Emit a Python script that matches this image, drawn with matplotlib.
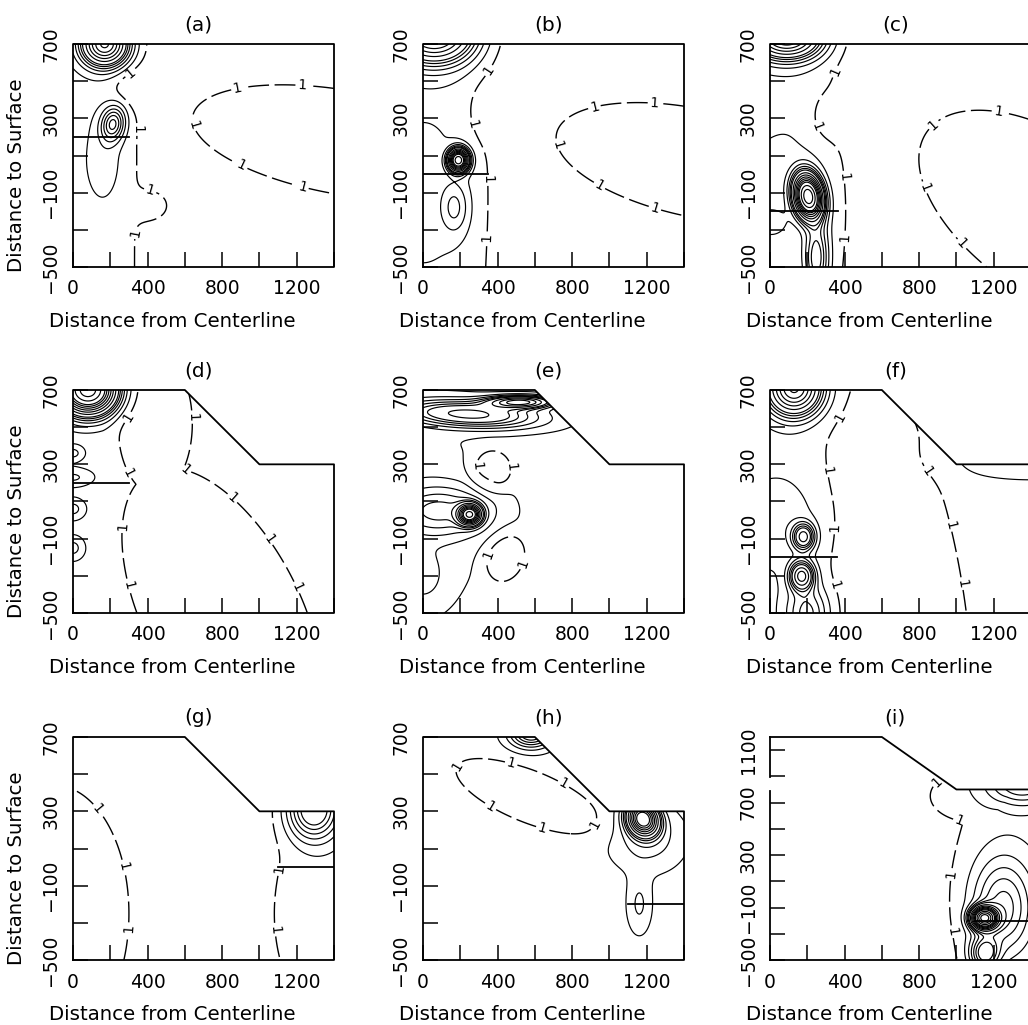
import numpy as np
import matplotlib
matplotlib.use("Agg")
import matplotlib.pyplot as plt
from matplotlib.patches import Polygon

plt.rcParams['font.family'] = ['DejaVu Sans']

# ---------------- axis data ----------------
x_ticks = [0, 200, 400, 600, 800, 1000, 1200, 1400]
x_tick_labels = ['0', '', '400', '', '800', '', '1200', '']
y_ticks = [-500, -300, -100, 100, 300, 500, 700]
y_tick_labels = ['\u2212500', '', '\u2212100', '', '300', '', '700']
y_ticks_i = [-500, -300, -100, 100, 300, 500, 700, 900, 1100]
y_tick_labels_i = ['\u2212500', '', '\u2212100', '', '300', '', '700', '', '1100']

surface_x = [0, 600, 1000, 1400]
surface_flat = [700, 700, 700, 700]
surface_slope = [700, 700, 300, 300]
surface_high = [1200, 1200, 800, 800]

level_one = [1.0]
solid_levels = [1.5, 2, 2.5, 3, 3.5, 4, 5, 6, 7, 8, 9, 10, 12, 14, 16, 18, 20]

# ---------------- field data per panel ----------------
# regions: (x0, y0, a, b, angle)   plateau zones bounded by the "1" contour
# peaks:   (x0, y0, amplitude, a, b, angle)
# layer:   (y, x_start, x_end)
base_a, delta_a = 0.7, 0.6
regions_a = [(0, 0, 330, 1e5, 0), (1450, 170, 820, 280, -10)]
peaks_a = [(170, 700, 8, 95, 90, 0), (215, 270, 2.8, 50, 75, -10), (170, 80, 0.5, 85, 190, 0),
           (330, 470, -0.5, 110, 90, 0), (430, -170, 0.5, 80, 70, 0)]
layer_a = (200, 0, 300)

base_b, delta_b = 0.7, 0.6
regions_b = [(0, 0, 320, 1e5, 0), (1460, 60, 760, 290, -12)]
peaks_b = [(60, 760, 8, 160, 120, 0), (190, 75, 12, 40, 45, 0), (170, -180, 1.2, 60, 110, 0),
           (0, -100, 0.35, 230, 420, 0), (330, 330, -0.4, 80, 120, 0)]
layer_b = (0, 0, 350)

base_c, delta_c = 0.7, 0.6
regions_c = [(0, 0, 330, 1e5, 0), (1500, -230, 800, 420, -35)]
peaks_c = [(90, 740, 8, 140, 90, 0), (205, -120, 14, 55, 90, 10), (250, -450, 2.5, 50, 150, 0),
           (0, -260, 0.8, 70, 60, 0), (100, -200, 0.4, 280, 420, 0), (290, 300, -0.4, 80, 120, 0)]
layer_c = (-200, 0, 365)

base_d, delta_d = 1.3, -0.6
regions_d = [(440, 520, 200, 380, 0), (800, -500, 850, 420, -63)]
peaks_d = [(80, 700, 14, 110, 95, 0), (0, 360, 0.9, 48, 34, 0), (0, 230, 0.8, 95, 40, 0),
           (0, 60, 0.9, 55, 45, 0), (0, -150, 0.9, 50, 50, 0)]
layer_d = (200, 0, 300)

base_e, delta_e = 1.3, -0.6
regions_e = [(365, 265, 115, 120, 0), (435, -200, 110, 145, -20)]
peaks_e = [(250, 570, 4, 280, 55, -3), (520, 635, 6, 130, 25, 0), (250, 30, 10, 45, 40, 0),
           (100, 50, 2, 220, 110, 0), (0, 0, 0.5, 270, 450, 0), (0, -300, 0.8, 80, 100, 0)]
layer_e = None

base_f, delta_f = 1.3, -0.6
regions_f = [(680, -500, 1320, 370, -82)]
peaks_f = [(130, 710, 8, 110, 110, 0), (180, -90, 4, 45, 55, 0), (60, -20, 0.6, 200, 200, 0),
           (170, -300, 5, 50, 60, 0), (200, -500, 2, 90, 120, 0), (1400, 330, 0.6, 350, 90, 0)]
layer_f = (-200, 0, 360)

base_g, delta_g = 0.7, 0.6
regions_g = [(-100, -250, 400, 690, 0), (1450, -250, 370, 620, 0)]
peaks_g = [(1290, 315, 4, 110, 130, 0)]
layer_g = (0, 1100, 1400)

base_h, delta_h = 1.3, -0.6
regions_h = [(570, 380, 420, 140, -22)]
peaks_h = [(580, 720, 3.5, 90, 60, 0), (1180, 260, 10, 60, 70, 30), (1200, 150, 1.0, 150, 130, 0),
           (1160, -200, 0.8, 50, 120, 0)]
layer_h = (-200, 1100, 1400)

base_i, delta_i = 0.7, 0.6
regions_i = [(1500, 100, 490, 1200, 0), (1100, 750, 240, 200, 0)]
peaks_i = [(1350, 850, 2.5, 150, 130, 0), (1150, -180, 15, 50, 60, 0), (1250, -100, 2.5, 130, 300, 0),
           (1150, -450, 3, 60, 100, 0)]
layer_i = (-200, 1100, 1400)
spine_gap_i = (790, 895)

titles = ['(a)', '(b)', '(c)', '(d)', '(e)', '(f)', '(g)', '(h)', '(i)']

panels = [
    (base_a, delta_a, regions_a, peaks_a, layer_a, surface_flat),
    (base_b, delta_b, regions_b, peaks_b, layer_b, surface_flat),
    (base_c, delta_c, regions_c, peaks_c, layer_c, surface_flat),
    (base_d, delta_d, regions_d, peaks_d, layer_d, surface_slope),
    (base_e, delta_e, regions_e, peaks_e, layer_e, surface_slope),
    (base_f, delta_f, regions_f, peaks_f, layer_f, surface_slope),
    (base_g, delta_g, regions_g, peaks_g, layer_g, surface_slope),
    (base_h, delta_h, regions_h, peaks_h, layer_h, surface_slope),
    (base_i, delta_i, regions_i, peaks_i, layer_i, surface_high),
]


def ell_r2(X, Y, x0, y0, a, b, ang):
    t = np.deg2rad(ang)
    dx, dy = X - x0, Y - y0
    u = dx * np.cos(t) + dy * np.sin(t)
    v = -dx * np.sin(t) + dy * np.cos(t)
    return (u / a) ** 2 + (v / b) ** 2


def build_field(X, Y, base, delta, regions, peaks):
    P = np.zeros_like(X)
    for (x0, y0, a, b, ang) in regions:
        r2 = ell_r2(X, Y, x0, y0, a, b, ang)
        P = np.maximum(P, np.exp(-np.log(2) * r2 ** 2))
    F = base + delta * P
    for (x0, y0, amp, a, b, ang) in peaks:
        F = F + amp * np.exp(-np.log(2) * ell_r2(X, Y, x0, y0, a, b, ang))
    return F


def label_points(cs, yscale, spacing, sx, sy):
    pts = []
    for path in cs.get_paths():
        for seg in path.to_polygons(closed_only=False):
            if len(seg) < 2:
                continue
            d = np.hypot(np.diff(seg[:, 0]), np.diff(seg[:, 1]) * yscale)
            s = np.concatenate([[0], np.cumsum(d)])
            L = s[-1]
            if L < spacing * 0.5:
                continue
            n = max(1, int(round(L / spacing)))
            for k in range(n):
                t = (k + 0.5) * L / n
                xi = np.interp(t, s, seg[:, 0])
                yi = np.interp(t, s, seg[:, 1])
                if 15 < xi < 1385 and yi < np.interp(xi, sx, sy) - 20:
                    pts.append((xi, yi))
    return pts


fig = plt.figure(figsize=(10.28, 10.25), dpi=100)
W, H = 1028.0, 1025.0
col_left = [73, 423, 770]
row_top = [44, 390, 737]
ax_w, ax_h = 261, 223

for idx, (base, delta, regions, peaks, layer, surf) in enumerate(panels):
    r, c = divmod(idx, 3)
    ax = fig.add_axes([col_left[c] / W, 1 - (row_top[r] + ax_h) / H, ax_w / W, ax_h / H])
    ymin = -500
    ymax = max(surf)
    xs = np.linspace(0, 1400, 351)
    ys = np.linspace(ymin, ymax, 301)
    X, Y = np.meshgrid(xs, ys)
    F = build_field(X, Y, base, delta, regions, peaks)

    ox = [0] + surface_x + [1400, 0]
    oy = [ymin] + list(surf) + [ymin, ymin]
    clip = Polygon(np.column_stack([ox, oy]), closed=True, transform=ax.transData,
                   facecolor='none', edgecolor='none')

    cs_solid = ax.contour(X, Y, F, levels=solid_levels, colors='k', linewidths=0.85)
    cs_solid.set_clip_path(clip)
    cs1 = ax.contour(X, Y, F, levels=level_one, colors='k', linewidths=1.0)
    cs1.set_linestyle((0, (15, 4)))
    cs1.set_clip_path(clip)
    yscale = 0.7 if ymax > 1000 else 1.0
    pts = label_points(cs1, yscale, 330, surface_x, surf)
    if pts:
        ax.clabel(cs1, manual=pts, fmt={1.0: '1'}, fontsize=10, inline=True, inline_spacing=2)

    # outline of the domain
    if idx == 8:
        g0, g1 = spine_gap_i
        ax.plot([0, 0], [ymin, g0], color='k', lw=1.3, clip_on=False)
        ax.plot([0, 0], [g1, ymax], color='k', lw=1.3, clip_on=False)
        ax.plot(surface_x + [1400, 0], list(surf) + [ymin, ymin], color='k', lw=1.3, clip_on=False)
    else:
        ax.plot(ox, oy, color='k', lw=1.3, clip_on=False)
    if layer is not None:
        ly, lx0, lx1 = layer
        ax.plot([lx0, lx1], [ly, ly], color='k', lw=1.3)

    for sp in ax.spines.values():
        sp.set_visible(False)
    ax.set_xlim(0, 1400)
    ax.set_ylim(ymin, ymax)
    ax.set_xticks(x_ticks)
    ax.set_xticklabels(x_tick_labels)
    if idx == 8:
        ax.set_yticks(y_ticks_i)
        ax.set_yticklabels(y_tick_labels_i, rotation=90, va='center')
    else:
        ax.set_yticks(y_ticks)
        ax.set_yticklabels(y_tick_labels, rotation=90, va='center')
    ax.tick_params(axis='both', direction='in', length=11, width=1.1, labelsize=13.5,
                   top=False, right=False)
    ax.tick_params(axis='x', pad=9)
    ax.tick_params(axis='y', pad=9)
    ax.set_title(titles[idx], fontsize=14.5, pad=10, x=0.48)
    ax.set_xlabel('Distance from Centerline', fontsize=14.2)
    ax.xaxis.set_label_coords(0.381, -0.2)
    if c == 0:
        ax.set_ylabel('Distance to Surface', fontsize=14.2)
        ax.yaxis.set_label_coords(-0.18, 0.41)

fig.savefig('out.png', dpi=100)
